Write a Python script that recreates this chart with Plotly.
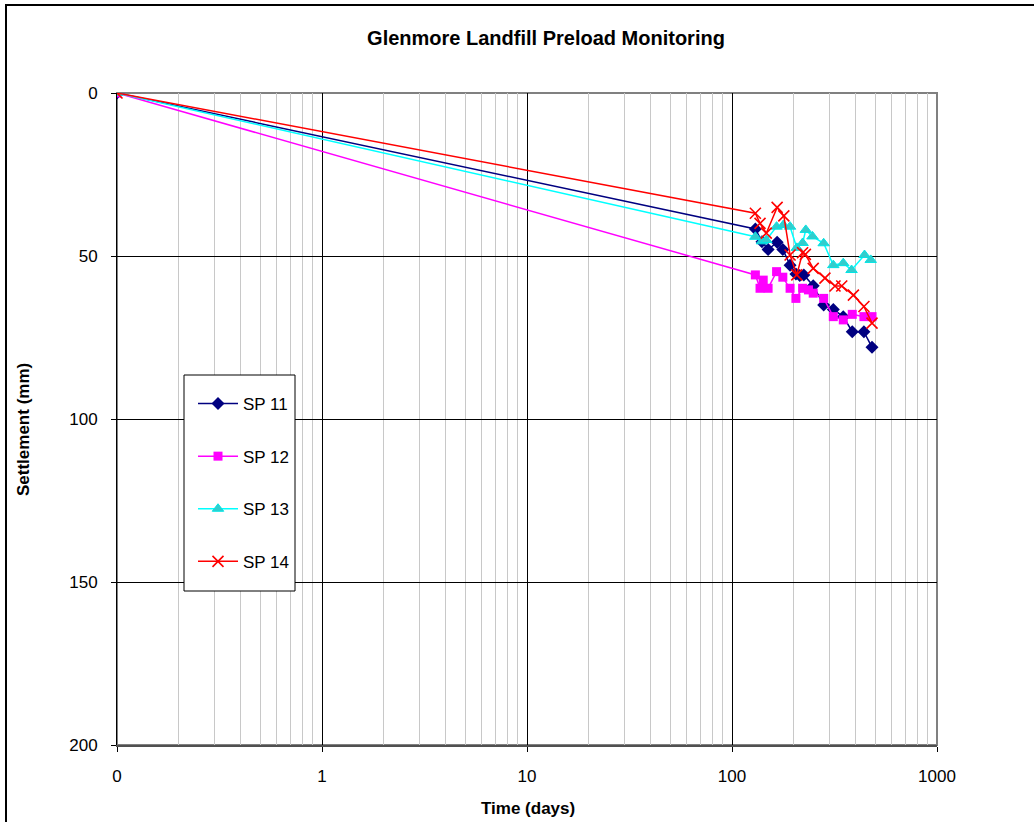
import plotly.graph_objects as go

# ---- data ----
t_sp11 = [0.1, 130, 140, 150, 166, 177, 192, 205, 214, 224, 249, 280, 312, 349, 386, 440, 482]
s_sp11 = [0, 41.7, 45.6, 48.0, 45.8, 48.0, 52.8, 55.5, 56.0, 55.8, 59.1, 65.0, 66.4, 68.6, 73.2, 73.2, 78.0]

t_sp12 = [0.1, 130, 137, 142, 150, 165, 177, 192, 205, 221, 236, 249, 280, 312, 349, 386, 440, 482]
s_sp12 = [0, 55.8, 59.9, 57.4, 59.9, 54.8, 56.5, 59.9, 63.0, 59.9, 60.4, 61.4, 63.0, 68.6, 69.6, 67.9, 68.6, 68.6]

t_sp13 = [0.1, 130, 140, 147, 165, 178, 192, 207, 221, 229, 247, 280, 312, 349, 383, 443, 475]
s_sp13 = [0, 44.1, 45.5, 45.1, 41.0, 40.5, 41.0, 47.5, 46.0, 42.0, 44.0, 46.1, 52.8, 52.2, 54.3, 49.7, 51.2]

t_sp14 = [0.1, 130, 137, 147, 166, 179, 192, 207, 221, 228, 249, 284, 318, 343, 391, 440, 482]
s_sp14 = [0, 36.9, 40.0, 43.0, 35.1, 37.7, 49.7, 55.8, 49.0, 49.5, 53.8, 56.8, 59.2, 59.2, 62.0, 65.5, 70.6]

x_tickvals = [0.1, 1, 10, 100, 1000]
x_ticktext = ["0", "1", "10", "100", "1000"]
y_tickvals = [0, 50, 100, 150, 200]

FONT = "Liberation Sans, Arial, sans-serif"

W, H = 1034, 822
L, R, T, B = 117, 937, 93, 745


def px(xp):
    return (xp - L) / (R - L)


def py(yp):
    return (B - yp) / (B - T)


fig = go.Figure()

series = [
    ("SP 11", t_sp11, s_sp11, "#000080", dict(symbol="diamond", size=10, color="#000080")),
    ("SP 12", t_sp12, s_sp12, "#FF00FF", dict(symbol="square", size=9, color="#FF00FF")),
    ("SP 13", t_sp13, s_sp13, "#00FFFF", dict(symbol="triangle-up", size=10, color="#33CCCC",
                                             line=dict(color="#00E5E5", width=1))),
    ("SP 14", t_sp14, s_sp14, "#FF0000", dict(symbol="x-thin", size=11, color="#FF0000",
                                             line=dict(color="#FF0000", width=1.6))),
]
for i, (name, t, s, col, mk) in enumerate(series):
    fig.add_trace(go.Scatter(
        x=t, y=s, name=name, mode="lines+markers",
        line=dict(color=col, width=1.5), marker=mk,
        legendgroup="g%d" % i,
    ))

fig.update_xaxes(
    type="log", range=[-1, 3],
    tickvals=x_tickvals, ticktext=x_ticktext,
    tickfont=dict(family=FONT, size=17, color="black"),
    ticks="outside", ticklen=5, tickcolor="black",
    ticklabelstandoff=10,
    showgrid=True, gridcolor="black", gridwidth=1,
    minor=dict(showgrid=True, gridcolor="#c8c8c8", gridwidth=1, dtick="D1", ticks=""),
    showline=True, linecolor="#505050", linewidth=2,
    zeroline=False,
)
fig.update_yaxes(
    range=[200, 0],
    tickvals=y_tickvals,
    tickfont=dict(family=FONT, size=17, color="black"),
    ticks="outside", ticklen=5, tickcolor="black",
    ticklabelstandoff=10,
    showgrid=True, gridcolor="black", gridwidth=1,
    showline=True, linecolor="black", linewidth=1,
    zeroline=False,
)

shapes = [
    # plot-area border
    dict(type="rect", xref="paper", yref="paper", x0=0, x1=1, y0=0, y1=1,
         line=dict(color="#808080", width=2), layer="below"),
    # legend box
    dict(type="rect", xref="paper", yref="paper",
         x0=px(184), x1=px(295), y0=py(591), y1=py(375),
         fillcolor="white", line=dict(color="black", width=1), layer="above"),
    # outer chart border
    dict(type="rect", xref="paper", yref="paper",
         x0=px(6), x1=px(1045), y0=py(835), y1=py(5),
         line=dict(color="black", width=2), layer="below"),
]

annotations = [
    dict(text="<b>Time (days)</b>", xref="paper", yref="paper",
         x=px(528), y=py(808), showarrow=False, xanchor="center", yanchor="middle",
         font=dict(family=FONT, size=17, color="black")),
    dict(text="<b>Settlement (mm)</b>", xref="paper", yref="paper",
         x=px(23), y=py(430), showarrow=False, xanchor="center", yanchor="middle",
         textangle=-90, font=dict(family=FONT, size=17, color="black")),
]

fig.update_layout(
    width=W, height=H,
    margin=dict(l=L, r=W - R, t=T, b=H - B, pad=0),
    paper_bgcolor="white", plot_bgcolor="white",
    title=dict(text="<b>Glenmore Landfill Preload Monitoring</b>",
               x=546 / W, xref="container", xanchor="center",
               y=1 - 38 / H, yref="container", yanchor="middle",
               font=dict(family=FONT, size=20, color="black")),
    showlegend=True,
    legend=dict(
        x=px(193), y=py(386), xanchor="left", yanchor="top",
        bgcolor="rgba(0,0,0,0)", borderwidth=0,
        font=dict(family=FONT, size=17, color="black"),
        tracegroupgap=27.5, itemwidth=40,
    ),
    shapes=shapes,
    annotations=annotations,
)

fig.write_html(
    "out.html",
    config={"displayModeBar": False},
    post_script="document.body.style.margin='0';document.body.style.overflow='hidden';",
)
